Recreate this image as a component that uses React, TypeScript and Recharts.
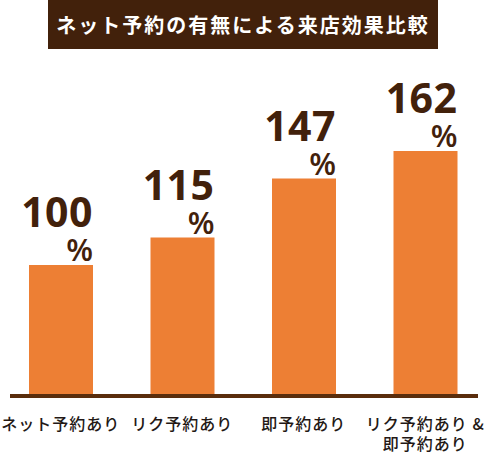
import { BarChart, Bar, XAxis, YAxis, ReferenceLine, LabelList } from "recharts"

const categories = ["ネット予約あり", "リク予約あり", "即予約あり", "リク予約あり &\n即予約あり"]
const visitRates = [100, 115, 147, 162]
const title = "ネット予約の有無による来店効果比較"

const data = categories.map((name, i) => ({ name, value: visitRates[i] }))

const BROWN = "#42210b"
const ORANGE = "#ed7f34"
const JP = "'Noto Sans CJK JP', 'Noto Sans', sans-serif"

function ValueLabel(props: any) {
  const { x, y, width, value } = props
  const right = x + width
  return (
    <g>
      <text x={right} y={y - 38} textAnchor="end" fill={BROWN} fontFamily="'Open Sans', sans-serif" fontWeight={700} fontSize={41} letterSpacing={0.5}>
        {value}
      </text>
      <text x={right} y={y - 4} textAnchor="end" fill={BROWN} fontFamily="'Open Sans', sans-serif" fontWeight={600} fontSize={31}>
        %
      </text>
    </g>
  )
}

function CategoryTick(props: any) {
  const { x, y, payload } = props
  const lines = String(payload.value).split("\n")
  return (
    <text x={x} y={y} textAnchor="middle" fill="#231815" fontFamily={JP} fontWeight={500} fontSize={16} letterSpacing={1}>
      {lines.map((line, i) => (
        <tspan key={i} x={x} dy={i === 0 ? 28 : 20}>
          {line}
        </tspan>
      ))}
    </text>
  )
}

function Baseline(props: any) {
  const { x1, x2, y1 } = props
  return <line x1={x1 + 10} x2={x2 - 8} y1={y1 + 2} y2={y1 + 2} stroke="#5a2d0c" strokeWidth={4} />
}

export default function App() {
  return (
    <div style={{ position: "relative", width: 486, height: 452, background: "#fff" }}>
      <style>{"body{margin:0}"}</style>
      <div
        style={{
          position: "absolute",
          left: 48,
          top: 0,
          width: 390,
          height: 49,
          background: BROWN,
          color: "#fff",
          fontFamily: JP,
          fontWeight: 700,
          fontSize: 20,
          letterSpacing: 2,
          lineHeight: "49px",
          textAlign: "center",
        }}
      >
        {title}
      </div>
      <BarChart width={486} height={452} data={data} margin={{ top: 81, right: 0, left: 0, bottom: 0 }}>
        <XAxis dataKey="name" axisLine={false} tickLine={false} interval={0} height={58} tick={<CategoryTick />} />
        <YAxis hide domain={[30, 200]} />
        <Bar dataKey="value" fill={ORANGE} barSize={64} isAnimationActive={false}>
          <LabelList dataKey="value" content={<ValueLabel />} />
        </Bar>
        <ReferenceLine y={30} shape={<Baseline />} />
      </BarChart>
    </div>
  )
}
